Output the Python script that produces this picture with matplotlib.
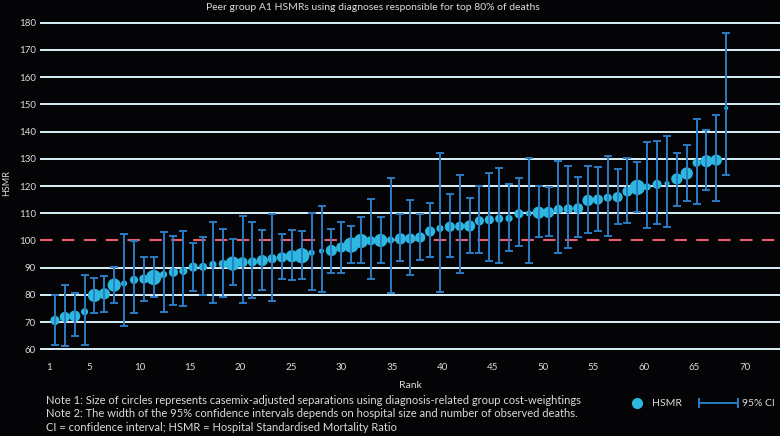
import numpy as np
import matplotlib
matplotlib.use('Agg')
import matplotlib.pyplot as plt
from matplotlib.lines import Line2D

# values (peer group A1, ranked by HSMR)
hsmr = [70.6, 71.9, 72.2, 73.8, 79.8, 80.4, 83.6, 84.2, 85.5, 85.8,
        86.4, 87.5, 88.3, 88.8, 90.2, 90.3, 91.2, 91.4, 91.5, 92.0,
        92.1, 92.6, 93.3, 93.8, 94.2, 94.4, 95.5, 96.1, 96.3, 97.4,
        98.3, 99.8, 99.9, 100.0, 100.2, 100.6, 100.7, 101.1, 103.3, 104.4,
        105.0, 105.2, 105.3, 107.2, 107.6, 108.0, 108.1, 109.8, 109.9, 110.2,
        110.3, 111.4, 111.6, 111.8, 114.7, 115.0, 115.7, 115.9, 118.0, 119.5,
        119.7, 120.6, 120.9, 122.6, 124.6, 128.5, 129.1, 129.5, 148.6]

ci_low = [61.7, 61.1, 64.8, 61.7, 73.3, 73.8, 76.9, 68.4, 73.2, 77.9,
          79.3, 73.8, 76.3, 75.8, 81.5, 80.0, 76.9, 79.3, 83.5, 77.0,
          79.0, 81.7, 77.8, 85.8, 85.5, 85.8, 81.7, 81.1, 88.0, 88.0,
          91.8, 91.8, 85.8, 91.8, 80.6, 92.3, 87.4, 92.9, 94.0, 81.1,
          94.0, 88.0, 95.5, 95.5, 92.3, 91.7, 96.0, 98.0, 91.7, 101.2,
          101.8, 95.5, 97.1, 101.2, 102.9, 103.4, 101.8, 106.1, 106.5, 110.4,
          104.4, 106.1, 105.0, 112.8, 114.4, 113.5, 118.6, 114.4, 124.1]

ci_high = [80.0, 83.7, 80.7, 87.4, 86.3, 86.9, 90.1, 102.5, 99.7, 93.9,
           93.9, 103.0, 101.7, 103.5, 99.2, 101.4, 106.9, 104.3, 100.6, 109.1,
           106.9, 103.9, 109.6, 102.3, 103.9, 103.4, 110.2, 112.7, 104.2, 106.9,
           105.4, 108.6, 115.4, 108.6, 122.9, 109.6, 115.0, 109.7, 113.8, 132.2,
           117.0, 124.0, 115.6, 120.1, 124.6, 126.6, 120.8, 122.9, 130.3, 120.1,
           119.6, 129.0, 127.5, 123.4, 127.5, 127.0, 130.9, 126.1, 130.4, 128.7,
           136.1, 136.7, 138.2, 132.3, 135.1, 144.7, 140.4, 146.2, 176.3]

# casemix-adjusted separations (relative, estimated from circle sizes)
separations = [8.1, 10.0, 12.1, 4.9, 16.9, 12.1, 16.9, 3.6, 6.4, 8.1,
               22.5, 4.9, 8.1, 6.4, 8.1, 6.4, 4.9, 6.4, 19.6, 10.0,
               8.1, 12.1, 8.1, 10.0, 14.4, 22.5, 3.6, 2.5, 12.1, 10.0,
               22.5, 19.6, 8.1, 16.9, 4.9, 12.1, 10.0, 10.0, 10.0, 4.9,
               10.0, 8.1, 12.1, 8.1, 8.1, 6.4, 4.9, 8.1, 3.6, 14.4,
               12.1, 8.1, 8.1, 10.0, 12.1, 10.0, 6.4, 10.0, 10.0, 22.5,
               4.9, 8.1, 2.5, 12.1, 14.4, 6.4, 14.4, 12.1, 1.6]

tick_labels = [1, 5, 10, 15, 20, 25, 30, 35, 40, 45, 50, 55, 60, 65, 70]
y_ticks = list(range(60, 181, 10))

title = 'Peer group A1 HSMRs using diagnoses responsible for top 80% of deaths'
notes = ['Note 1: Size of circles represents casemix-adjusted separations using diagnosis-related group cost-weightings',
         'Note 2: The width of the 95% confidence intervals depends on hospital size and number of observed deaths.',
         'CI = confidence interval; HSMR = Hospital Standardised Mortality Ratio']

BG = '#040407'
TXT = '#dcdcdc'
DOT = '#2cb8df'
BAR = '#2b7cc4'
GRID = '#d8f0f8'

plt.rcParams['font.family'] = ['Lato', 'DejaVu Sans']

rank = np.arange(1, len(hsmr) + 1)
hsmr = np.array(hsmr)
err = [hsmr - np.array(ci_low), np.array(ci_high) - hsmr]

fig = plt.figure(figsize=(7.8, 4.36), dpi=100, facecolor=BG)
ax = fig.add_axes([40 / 780, (436 - 350.7) / 436, 740 / 780, 329.4 / 436])
ax.set_facecolor(BG)

ax.set_xlim(-0.52, 74.45)
ax.set_ylim(59.5, 180.5)

# white gridlines, except at 100 where the red reference line sits
for v in y_ticks:
    if v != 100:
        ax.axhline(v, color=GRID, lw=1.4, zorder=1)
ax.axhline(100, color='#ea5f6b', lw=1.5, linestyle=(0, (6, 4.5)), zorder=2)

ax.scatter(rank, hsmr, s=np.array(separations) * 5.4, color=DOT,
           edgecolors='none', zorder=3)
ax.errorbar(rank, hsmr, yerr=err, fmt='none', ecolor=BAR, elinewidth=1.4,
            capsize=3.2, capthick=1.4, zorder=4)

# rank labels sit on a slightly wider spacing than the points
ax.set_xticks([0.392 + 1.0213 * (t - 1) for t in tick_labels])
ax.set_xticklabels([str(t) for t in tick_labels])
ax.set_yticks(y_ticks)
ax.tick_params(length=0, colors=TXT, labelsize=7)
ax.tick_params(axis='x', pad=9)
ax.tick_params(axis='y', pad=3)
for s in ax.spines.values():
    s.set_visible(False)

ax.set_xlabel('Rank', color=TXT, fontsize=7.5, labelpad=6)

fig.text(7 / 780, 1 - 183 / 436, 'HSMR', rotation=90, color=TXT, fontsize=6.5,
         ha='center', va='center')
fig.text(373 / 780, 1 - 7.5 / 436, title, color=TXT, fontsize=7.5,
         ha='center', va='center')
for i, line in enumerate(notes):
    fig.text(46 / 780, 1 - (400 + 13.5 * i) / 436, line, color=TXT,
             fontsize=8, ha='left', va='center')

# legend, laid out by hand in figure coordinates
ly = 1 - 403 / 436
fig.add_artist(Line2D([637 / 780], [ly], transform=fig.transFigure,
                      marker='o', markersize=8, markerfacecolor=DOT,
                      markeredgecolor='none', linestyle='none'))
fig.text(652 / 780, ly, 'HSMR', color=TXT, fontsize=7.5, ha='left', va='center')
fig.add_artist(Line2D([699 / 780, 738 / 780], [ly, ly], transform=fig.transFigure,
                      color=BAR, lw=1.4, marker='|', markersize=7,
                      markeredgewidth=1.4))
fig.text(742 / 780, ly, '95% CI', color=TXT, fontsize=7.5, ha='left', va='center')

fig.savefig('out.png', dpi=100, facecolor=BG)
